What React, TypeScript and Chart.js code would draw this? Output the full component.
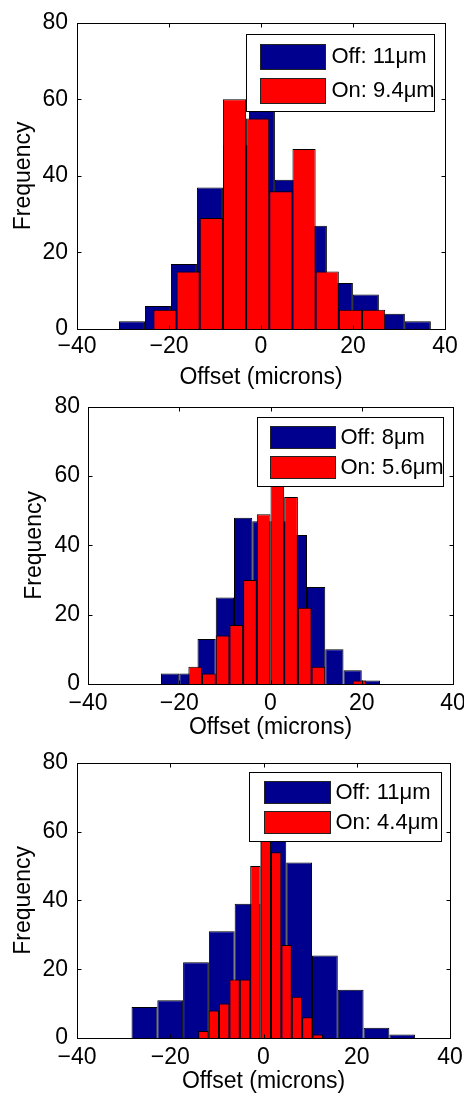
import React, { useEffect, useRef } from "react";
import { Chart, registerables } from "chart.js";

Chart.register(...registerables);

// ---------- data ----------
const xTickValues = [-40, -20, 0, 20, 40];
const xTickLabels = ["\u221240", "\u221220", "0", "20", "40"];
const yTickValues = [0, 20, 40, 60, 80];
const yTickLabels = ["0", "20", "40", "60", "80"];

const xTitle = "Offset (microns)";
const yTitle = "Frequency";

// Panel 1
const offCenters1 = [-28.05, -22.4, -16.75, -11.1, -5.45, 0.2, 5.85, 11.5, 17.15, 22.8, 28.45, 34.1];
const offCounts1 = [2, 6, 17, 37, 48, 58, 39, 27, 12, 9, 4, 2];
const onCenters1 = [-20.88, -15.84, -10.8, -5.76, -0.72, 4.32, 9.36, 14.4, 19.44, 24.48];
const onCounts1 = [5, 15, 29, 60, 55, 36, 47, 15, 5, 5];
const offLabel1 = "Off: 11\u03bcm";
const onLabel1 = "On: 9.4\u03bcm";

// Panel 2
const offCenters2 = [-22, -18, -14, -10, -6, -2, 2, 6, 10, 14, 18, 22];
const offCounts2 = [3, 3, 13, 25, 48, 47, 47, 43, 28, 10, 4, 1];
const onCenters2 = [-16.5, -13.5, -10.5, -7.5, -4.5, -1.5, 1.5, 4.5, 7.5, 10.5, 13.5, 16.5, 19.5];
const onCounts2 = [5, 3, 14, 17, 30, 49, 58, 54, 22, 5, 0, 0, 1];
const offLabel2 = "Off: 8\u03bcm";
const onLabel2 = "On: 5.6\u03bcm";

// Panel 3
const offCenters3 = [-25.54, -20.01, -14.48, -8.95, -3.42, 2.11, 7.64, 13.17, 18.7, 24.23, 29.76];
const offCounts3 = [9, 11, 22, 31, 39, 58, 51, 24, 14, 3, 1];
const onCenters3 = [-12.89, -10.66, -8.43, -6.2, -3.97, -1.74, 0.49, 2.72, 4.95, 7.18, 9.41, 11.64];
const onCounts3 = [2, 8, 10, 17, 17, 50, 58, 54, 27, 12, 6, 1];
const offLabel3 = "Off: 11\u03bcm";
const onLabel3 = "On: 4.4\u03bcm";

// ---------- styles ----------
const OFF_COLOR = "#00008f";
const ON_COLOR = "#ff0000";
const FONT_FAMILY = "'Liberation Sans', Arial, Helvetica, sans-serif";
const FONT_SIZE = 23;
const LEGEND_FONT_SIZE = 22;
const LH = FONT_SIZE * 1.2;
const CANVAS_W = 480;

type Layout = {
  top: number;
  height: number;
  L: number;
  T: number;
  B: number;
  R: number;
  yTitleX: number;
  yTickGap: number;
  xTickCenter: number;
  xTitleCenter: number;
  legW: number;
  legH: number;
  legInset: number;
  swX: number;
  swW: number;
  textX: number;
};

type PanelProps = {
  layout: Layout;
  offCenters: number[];
  offCounts: number[];
  onCenters: number[];
  onCounts: number[];
  offLabel: string;
  onLabel: string;
};

function Panel({ layout, offCenters, offCounts, onCenters, onCounts, offLabel, onLabel }: PanelProps) {
  const ref = useRef<HTMLCanvasElement | null>(null);

  useEffect(() => {
    const canvas = ref.current;
    if (!canvas) return;

    const padLeft = layout.yTitleX - LH / 2;
    const xAxisH = layout.xTitleCenter + LH / 2;
    const padBottom = layout.height - layout.B - xAxisH;

    const framePlugin = {
      id: "frame",
      afterDraw(chart: any) {
        const { ctx, chartArea: a, scales } = chart;
        ctx.save();
        ctx.strokeStyle = "#000";
        ctx.lineWidth = 1;
        const l = Math.round(a.left) + 0.5;
        const t = Math.round(a.top) + 0.5;
        const r = Math.round(a.right) + 0.5;
        const b = Math.round(a.bottom) + 0.5;
        ctx.strokeRect(l, t, r - l, b - t);
        const tl = 4;
        ctx.beginPath();
        for (const v of xTickValues) {
          const px = Math.round(scales.x.getPixelForValue(v)) + 0.5;
          ctx.moveTo(px, b);
          ctx.lineTo(px, b - tl);
          ctx.moveTo(px, t);
          ctx.lineTo(px, t + tl);
        }
        for (const v of yTickValues) {
          const py = Math.round(scales.y.getPixelForValue(v)) + 0.5;
          ctx.moveTo(l, py);
          ctx.lineTo(l + tl, py);
          ctx.moveTo(r, py);
          ctx.lineTo(r - tl, py);
        }
        ctx.stroke();
        ctx.restore();
      },
    };

    const legendPlugin = {
      id: "boxLegend",
      afterDatasetsDraw(chart: any) {
        const { ctx, chartArea: a } = chart;
        const w = layout.legW;
        const h = layout.legH;
        const x0 = Math.round(a.right - layout.legInset - w) + 0.5;
        const y0 = Math.round(a.top + layout.legInset) + 0.5;
        ctx.save();
        ctx.fillStyle = "#fff";
        ctx.fillRect(x0, y0, w, h);
        ctx.strokeStyle = "#000";
        ctx.lineWidth = 1;
        ctx.strokeRect(x0, y0, w, h);
        const pad = 0.12 * h;
        const swH = 0.32 * h;
        const rows = [
          { color: OFF_COLOR, label: offLabel, y: y0 + pad },
          { color: ON_COLOR, label: onLabel, y: y0 + 2 * pad + swH },
        ];
        ctx.font = `${LEGEND_FONT_SIZE}px ${FONT_FAMILY}`;
        ctx.textBaseline = "middle";
        ctx.textAlign = "left";
        for (const row of rows) {
          const sx = Math.round(x0 + layout.swX) + 0.5;
          const sy = Math.round(row.y) + 0.5;
          ctx.fillStyle = row.color;
          ctx.fillRect(sx, sy, layout.swW, Math.round(swH));
          ctx.strokeStyle = "#222";
          ctx.strokeRect(sx, sy, layout.swW, Math.round(swH));
          ctx.fillStyle = "#000";
          ctx.fillText(row.label, x0 + layout.textX, row.y + swH / 2 + 1);
        }
        ctx.restore();
      },
    };

    const xCommon = {
      type: "linear" as const,
      min: -40,
      max: 40,
      offset: false,
      afterBuildTicks: (scale: any) => {
        scale.ticks = xTickValues.map((v) => ({ value: v }));
      },
    };

    const barStyle = {
      borderColor: "#000",
      borderWidth: 1,
      categoryPercentage: 1,
      barPercentage: 1,
      grouped: false,
      inflateAmount: 0,
    };

    const chart = new Chart(canvas, {
      type: "bar",
      data: {
        datasets: [
          {
            label: offLabel,
            data: offCenters.map((c, i) => ({ x: c, y: offCounts[i] })),
            xAxisID: "xOff",
            backgroundColor: OFF_COLOR,
            order: 2,
            ...barStyle,
          },
          {
            label: onLabel,
            data: onCenters.map((c, i) => ({ x: c, y: onCounts[i] })),
            xAxisID: "x",
            backgroundColor: ON_COLOR,
            order: 1,
            ...barStyle,
          },
        ] as any,
      },
      options: {
        responsive: false,
        animation: false,
        events: [],
        devicePixelRatio: 1,
        font: { family: FONT_FAMILY, size: FONT_SIZE },
        layout: {
          padding: {
            left: padLeft,
            top: layout.T,
            right: CANVAS_W - layout.R,
            bottom: padBottom,
          },
        },
        plugins: {
          legend: { display: false },
          tooltip: { enabled: false },
        },
        scales: {
          x: {
            ...xCommon,
            position: "bottom",
            grid: { display: false, drawTicks: false },
            border: { display: false },
            ticks: {
              color: "#000",
              font: { family: FONT_FAMILY, size: FONT_SIZE },
              padding: layout.xTickCenter - LH / 2,
              maxRotation: 0,
              autoSkip: false,
              callback: (_v: any, i: number) => xTickLabels[i],
            },
            title: {
              display: true,
              text: xTitle,
              color: "#000",
              font: { family: FONT_FAMILY, size: FONT_SIZE },
              padding: 0,
            },
            afterFit: (scale: any) => {
              scale.height = xAxisH;
            },
          },
          xOff: {
            ...xCommon,
            display: false,
            position: "bottom",
          },
          y: {
            type: "linear",
            min: 0,
            max: 80,
            afterBuildTicks: (scale: any) => {
              scale.ticks = yTickValues.map((v) => ({ value: v }));
            },
            grid: { display: false, drawTicks: false },
            border: { display: false },
            ticks: {
              color: "#000",
              font: { family: FONT_FAMILY, size: FONT_SIZE },
              padding: layout.yTickGap,
              autoSkip: false,
              callback: (_v: any, i: number) => yTickLabels[i],
            },
            title: {
              display: true,
              text: yTitle,
              color: "#000",
              font: { family: FONT_FAMILY, size: FONT_SIZE },
              padding: 0,
            },
            afterFit: (scale: any) => {
              scale.width = layout.L - padLeft;
            },
          },
        } as any,
      },
      plugins: [legendPlugin, framePlugin],
    });

    return () => chart.destroy();
  }, []);

  return (
    <canvas
      ref={ref}
      width={CANVAS_W}
      height={layout.height}
      style={{ position: "absolute", left: 0, top: layout.top, width: CANVAS_W, height: layout.height }}
    />
  );
}

const layout1: Layout = {
  top: 0, height: 400, L: 77, T: 17, B: 329, R: 445,
  yTitleX: 24, yTickGap: 9, xTickCenter: 18, xTitleCenter: 49,
  legW: 188, legH: 77, legInset: 11, swX: 13, swW: 65, textX: 85,
};
const layout2: Layout = {
  top: 385, height: 365, L: 88, T: 20, B: 299, R: 453,
  yTitleX: 35, yTickGap: 8, xTickCenter: 20, xTitleCenter: 44,
  legW: 186, legH: 69, legInset: 10, swX: 12, swW: 65, textX: 83,
};
const layout3: Layout = {
  top: 740, height: 356, L: 77, T: 14, B: 298, R: 450,
  yTitleX: 24, yTickGap: 9, xTickCenter: 20, xTitleCenter: 44,
  legW: 192, legH: 69, legInset: 9, swX: 14, swW: 66, textX: 86,
};

export default function App() {
  return (
    <div
      style={{
        position: "absolute",
        left: 0,
        top: 0,
        width: 464,
        height: 1095,
        overflow: "hidden",
        background: "#fff",
      }}
    >
      <Panel layout={layout1} offCenters={offCenters1} offCounts={offCounts1} onCenters={onCenters1} onCounts={onCounts1} offLabel={offLabel1} onLabel={onLabel1} />
      <Panel layout={layout2} offCenters={offCenters2} offCounts={offCounts2} onCenters={onCenters2} onCounts={onCounts2} offLabel={offLabel2} onLabel={onLabel2} />
      <Panel layout={layout3} offCenters={offCenters3} offCounts={offCounts3} onCenters={onCenters3} onCounts={onCounts3} offLabel={offLabel3} onLabel={onLabel3} />
    </div>
  );
}
